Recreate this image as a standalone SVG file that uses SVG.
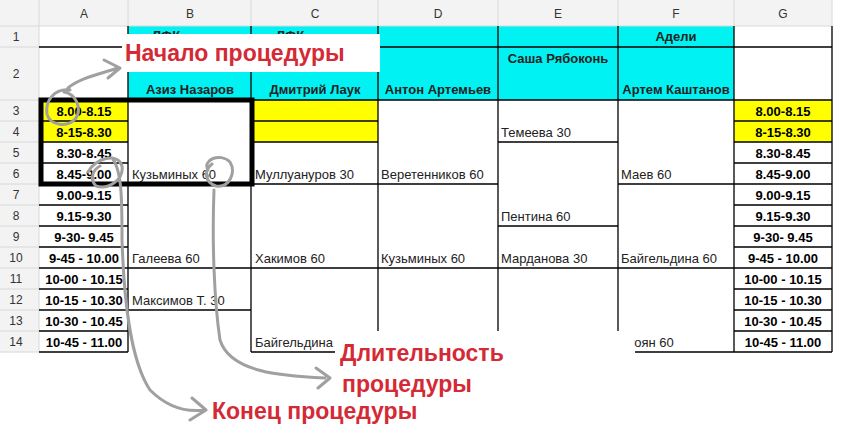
<svg xmlns="http://www.w3.org/2000/svg" width="847" height="433" viewBox="0 0 847 433">
<style>
.h{font:12px "Liberation Sans",sans-serif;fill:#333;text-anchor:middle}
.t{font:bold 13px "Liberation Sans",sans-serif;fill:#000;text-anchor:middle}
.n{font:bold 13px "Liberation Sans",sans-serif;fill:#222;text-anchor:middle}
.c{font:13px "Liberation Sans",sans-serif;fill:#222}
.g{stroke:#d8d8d8;stroke-width:1;fill:none}
.b{stroke:#000;stroke-width:1.3;fill:none}
.r{font:bold 23px "Liberation Sans",sans-serif;fill:#d42a35}
.p{stroke:#a0a0a0;stroke-width:3;fill:none;stroke-linecap:round;stroke-linejoin:round}
</style>
<rect width="847" height="433" fill="#fff"/>
<g id="grid">
<rect x="0" y="0" width="832" height="26" fill="#f3f3f3"/>
<rect x="0" y="26" width="39" height="326" fill="#f3f3f3"/>
<rect x="128" y="26" width="606" height="74" fill="#00f2f2"/>
<rect x="41" y="100" width="87" height="42" fill="#ffff00"/>
<rect x="251" y="100" width="127" height="42" fill="#ffff00"/>
<rect x="734" y="100" width="98" height="42" fill="#ffff00"/>
<path class="g" d="M39 0V352M128 0V26M251 0V26M378 0V26M498 0V26M618 0V26M734 0V26M832 0V26M0 26H832M0 47H39M0 100H39M0 121H39M0 142H39M0 163H39M0 184H39M0 205H39M0 226H39M0 247H39M0 268H39M0 289H39M0 310H39M0 331H39M0 352H39"/>
<text class="h" x="84" y="18">A</text><text class="h" x="190" y="18">B</text><text class="h" x="315" y="18">C</text><text class="h" x="438" y="18">D</text><text class="h" x="558" y="18">E</text><text class="h" x="676" y="18">F</text><text class="h" x="783" y="18">G</text>
<text class="h" x="16" y="41">1</text><text class="h" x="16" y="78">2</text>
<text class="h" x="16" y="115">3</text><text class="h" x="16" y="136">4</text><text class="h" x="16" y="157">5</text><text class="h" x="16" y="178">6</text><text class="h" x="16" y="199">7</text><text class="h" x="16" y="220">8</text><text class="h" x="16" y="241">9</text><text class="h" x="16" y="262">10</text><text class="h" x="16" y="283">11</text><text class="h" x="16" y="304">12</text><text class="h" x="16" y="325">13</text><text class="h" x="16" y="346">14</text>
<path class="b" d="M39 47H832M39 100H832M128 26V352M251 26V352M378 26V331M498 26V331M618 26V331M734 26V352M832 26V352M734 47H832
M39 121H128M39 142H128M39 163H128M39 184H128M39 205H128M39 226H128M39 247H128M39 268H128M39 289H128M39 310H128M39 331H128M39 352H128
M734 121H832M734 142H832M734 163H832M734 184H832M734 205H832M734 226H832M734 247H832M734 268H832M734 289H832M734 310H832M734 331H832M734 352H832
M128 184H251M128 268H734M128 310H251M251 121H378M251 142H378M251 184H378M378 184H498M498 142H618M498 226H618M618 184H734M251 352H335M635 352H734"/>
<text class="n" x="166" y="40">ЛФК</text><text class="n" x="290" y="40">ЛФК</text>
<text class="n" x="676" y="41">Адели</text>
<text class="n" x="558" y="63">Саша Рябоконь</text>
<text class="n" x="190" y="94">Азиз Назаров</text><text class="n" x="315" y="94">Дмитрий Лаук</text><text class="n" x="438" y="94">Антон Артемьев</text><text class="n" x="676" y="94">Артем Каштанов</text>
<g id="times">
<text class="t" x="84" y="116">8.00-8.15</text><text class="t" x="84" y="137">8-15-8.30</text><text class="t" x="84" y="158">8.30-8.45</text><text class="t" x="84" y="179">8.45-9.00</text><text class="t" x="84" y="200">9.00-9.15</text><text class="t" x="84" y="221">9.15-9.30</text><text class="t" x="84" y="242">9-30- 9.45</text><text class="t" x="84" y="263">9-45 - 10.00</text><text class="t" x="84" y="284">10-00 - 10.15</text><text class="t" x="84" y="305">10-15 - 10.30</text><text class="t" x="84" y="326">10-30 - 10.45</text><text class="t" x="84" y="347">10-45 - 11.00</text>
<text class="t" x="783" y="116">8.00-8.15</text><text class="t" x="783" y="137">8-15-8.30</text><text class="t" x="783" y="158">8.30-8.45</text><text class="t" x="783" y="179">8.45-9.00</text><text class="t" x="783" y="200">9.00-9.15</text><text class="t" x="783" y="221">9.15-9.30</text><text class="t" x="783" y="242">9-30- 9.45</text><text class="t" x="783" y="263">9-45 - 10.00</text><text class="t" x="783" y="284">10-00 - 10.15</text><text class="t" x="783" y="305">10-15 - 10.30</text><text class="t" x="783" y="326">10-30 - 10.45</text><text class="t" x="783" y="347">10-45 - 11.00</text>
</g>
<text class="c" x="132" y="179">Кузьминых 60</text><text class="c" x="255" y="179">Муллуануров 30</text><text class="c" x="381" y="179">Веретенников 60</text><text class="c" x="621" y="179">Маев 60</text>
<text class="c" x="501" y="137">Темеева 30</text><text class="c" x="501" y="221">Пентина 60</text><text class="c" x="501" y="263">Марданова 30</text>
<text class="c" x="132" y="263">Галеева 60</text><text class="c" x="255" y="263">Хакимов 60</text><text class="c" x="381" y="263">Кузьминых 60</text><text class="c" x="621" y="263">Байгельдина 60</text>
<text class="c" x="132" y="305">Максимов Т. 30</text>
<text class="c" x="255" y="347">Байгельдина 60</text><text class="c" x="614" y="347">Багоян 60</text>
</g>
<rect x="336" y="332" width="298" height="70" fill="#fff"/>
<rect x="122" y="34" width="258" height="38" fill="#fff"/>
<rect x="41" y="100" width="211" height="84" fill="none" stroke="#000" stroke-width="5"/>
<g id="notes">
<path class="p" d="M70 90C55 88 45 100 47 114C50 126 68 128 76 118C82 108 76 94 64 92M68 88C80 78 100 74 118 68M104 60L120 68L108 78"/>
<path class="p" d="M88 172C95 158 118 152 122 166C124 180 108 190 96 186C90 180 92 170 100 166M112 158C122 170 122 200 122 240C124 300 130 360 150 390C170 410 190 412 205 410M192 398L206 410L190 420"/>
<path class="p" d="M208 170C202 160 220 152 230 162C236 172 230 188 216 186C204 182 204 170 212 164M214 190C212 240 214 300 220 340C230 372 280 376 325 378M316 368L330 378L318 388"/>
<text class="r" x="125" y="61">Начало процедуры</text>
<text class="r" x="340" y="361">Длительность</text>
<text class="r" x="342" y="392">процедуры</text>
<text class="r" x="212" y="419">Конец процедуры</text>
</g>
</svg>
